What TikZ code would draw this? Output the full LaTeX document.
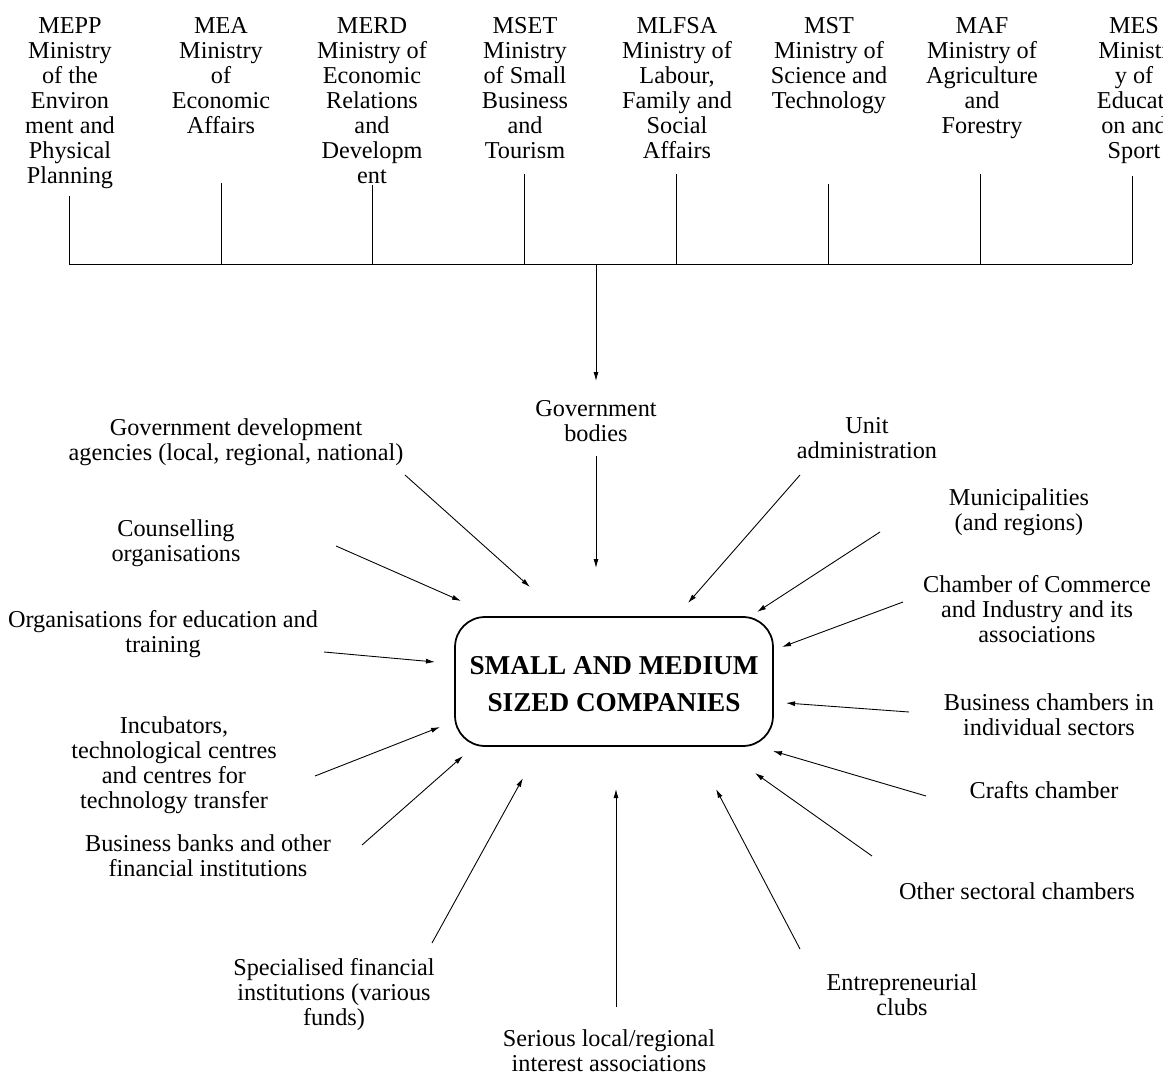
\documentclass[tikz,border=0pt]{standalone}
\usepackage{fontspec}
\setmainfont{Liberation Serif}
\usetikzlibrary{arrows.meta}
\begin{document}
\begin{tikzpicture}[x=0.02cm, y=-0.02cm,
  txt/.style={align=center, inner sep=0pt, font=\fontsize{13.8}{14.23}\selectfont},
  ministry/.style={txt, anchor=north},
  feed/.style={-{Latex[length=0.18cm,width=0.1cm]}, line width=0.5pt},
  stub/.style={line width=0.5pt},
  hub/.style={draw, line width=1pt, rounded corners=0.6cm, minimum width=6.36cm,
    minimum height=2.58cm, align=center, inner sep=0pt,
    font=\fontsize{15.5}{21.05}\selectfont\bfseries}]
\useasboundingbox (0,0) rectangle (1163,1074);
\clip (0,0) rectangle (1163,1074);

% ---- ministries along the top
\node[ministry] (mepp)  at (70,17)   {MEPP\\Ministry\\of the\\Environ\\ment and\\Physical\\Planning};
\node[ministry] (mea)   at (221,17)  {MEA\\Ministry\\of\\Economic\\Affairs};
\node[ministry] (merd)  at (372,17)  {MERD\\Ministry of\\Economic\\Relations\\and\\Developm\\ent};
\node[ministry] (mset)  at (525,17)  {MSET\\Ministry\\of Small\\Business\\and\\Tourism};
\node[ministry] (mlfsa) at (677,17)  {MLFSA\\Ministry of\\Labour,\\Family and\\Social\\Affairs};
\node[ministry] (mst)   at (829,17)  {MST\\Ministry of\\Science and\\Technology};
\node[ministry] (maf)   at (982,17)  {MAF\\Ministry of\\Agriculture\\and\\Forestry};
\node[ministry] (mes)   at (1134,17) {MES\\Ministr\\y of\\Educati\\on and\\Sport};

% stubs down to the common bus
\coordinate (s1) at (69,196);   \coordinate (b1) at (69,264);
\coordinate (s2) at (221,183);  \coordinate (b2) at (221,264);
\coordinate (s3) at (372,185);  \coordinate (b3) at (372,264);
\coordinate (s4) at (524,174);  \coordinate (b4) at (524,264);
\coordinate (s5) at (676,174);  \coordinate (b5) at (676,264);
\coordinate (s6) at (828,184);  \coordinate (b6) at (828,264);
\coordinate (s7) at (980,174);  \coordinate (b7) at (980,264);
\coordinate (s8) at (1132,176); \coordinate (b8) at (1132,264);
\foreach \i in {1,...,8} \draw[stub] (s\i) -- (b\i);
\draw[stub] (b1) -- (b8);

% ---- central box
\node[hub] (smc) at (614,681.5) {\rule{0pt}{13.6pt}SMALL AND MEDIUM\\SIZED COMPANIES};

% ---- surrounding actors
\node[txt] (govdev)    at (236,442)    {Government development\\agencies (local, regional, national)};
\node[txt] (govbodies) at (596,421.5)  {Government\\bodies};
\node[txt] (unitadm)   at (867,438)    {Unit\\administration};
\node[txt] (munic)     at (1019,512)   {Municipalities\\(and regions)};
\node[txt] (chamber)   at (1037,609)   {Chamber of Commerce\\and Industry and its\\associations};
\node[txt] (bizch)     at (1049,714.5) {Business chambers in\\individual sectors};
\node[txt] (crafts)    at (1044,790)   {Crafts chamber};
\node[txt] (othch)     at (1017,891)   {Other sectoral chambers};
\node[txt] (entre)     at (902,994.5)  {Entrepreneurial\\clubs};
\node[txt] (serious)   at (609,1051)   {Serious local/regional\\interest associations};
\node[txt] (specfin)   at (334,994.5)  {Specialised financial\\institutions (various\\funds)};
\node[txt] (banks)     at (208,855.5)  {Business banks and other\\financial institutions};
\node[txt] (incub)     at (174,765.5)  {Incubators,\\technological centres\\and centres for\\technology transfer};
\node[txt] (edu)       at (163,634.5)  {Organisations for education and\\training};
\node[txt] (couns)     at (176,543.5)  {Counselling\\organisations};

% bus drops onto the government bodies
\coordinate (drop) at (596,264);
\draw[feed, shorten >=0.39cm] (drop) -- (govbodies.north);

% arrow ends
\coordinate (govdev-t)    at (405,475);  \coordinate (govdev-h)    at (530,587);
\coordinate (govbodies-t) at (596,456);  \coordinate (govbodies-h) at (596,568);
\coordinate (unitadm-t)   at (800,475);  \coordinate (unitadm-h)   at (688,603);
\coordinate (munic-t)     at (880,532);  \coordinate (munic-h)     at (757,612);
\coordinate (chamber-t)   at (903,602);  \coordinate (chamber-h)   at (782,647);
\coordinate (bizch-t)     at (909,712);  \coordinate (bizch-h)     at (786,703);
\coordinate (crafts-t)    at (926,796);  \coordinate (crafts-h)    at (773,751);
\coordinate (othch-t)     at (872,856);  \coordinate (othch-h)     at (755,773);
\coordinate (entre-t)     at (800,949);  \coordinate (entre-h)     at (716,789);
\coordinate (serious-t)   at (616,1007); \coordinate (serious-h)   at (616,789);
\coordinate (specfin-t)   at (432,943);  \coordinate (specfin-h)   at (523,778);
\coordinate (banks-t)     at (362,845);  \coordinate (banks-h)     at (463,756);
\coordinate (incub-t)     at (315,776);  \coordinate (incub-h)     at (440,727);
\coordinate (edu-t)       at (324,652);  \coordinate (edu-h)       at (435,662);
\coordinate (couns-t)     at (336,546);  \coordinate (couns-h)     at (461,601);

\foreach \n in {govdev,govbodies,unitadm,munic,chamber,bizch,crafts,othch,
                entre,serious,specfin,banks,incub,edu,couns}
  \draw[feed] (\n-t) -- (\n-h);
\end{tikzpicture}
\end{document}
